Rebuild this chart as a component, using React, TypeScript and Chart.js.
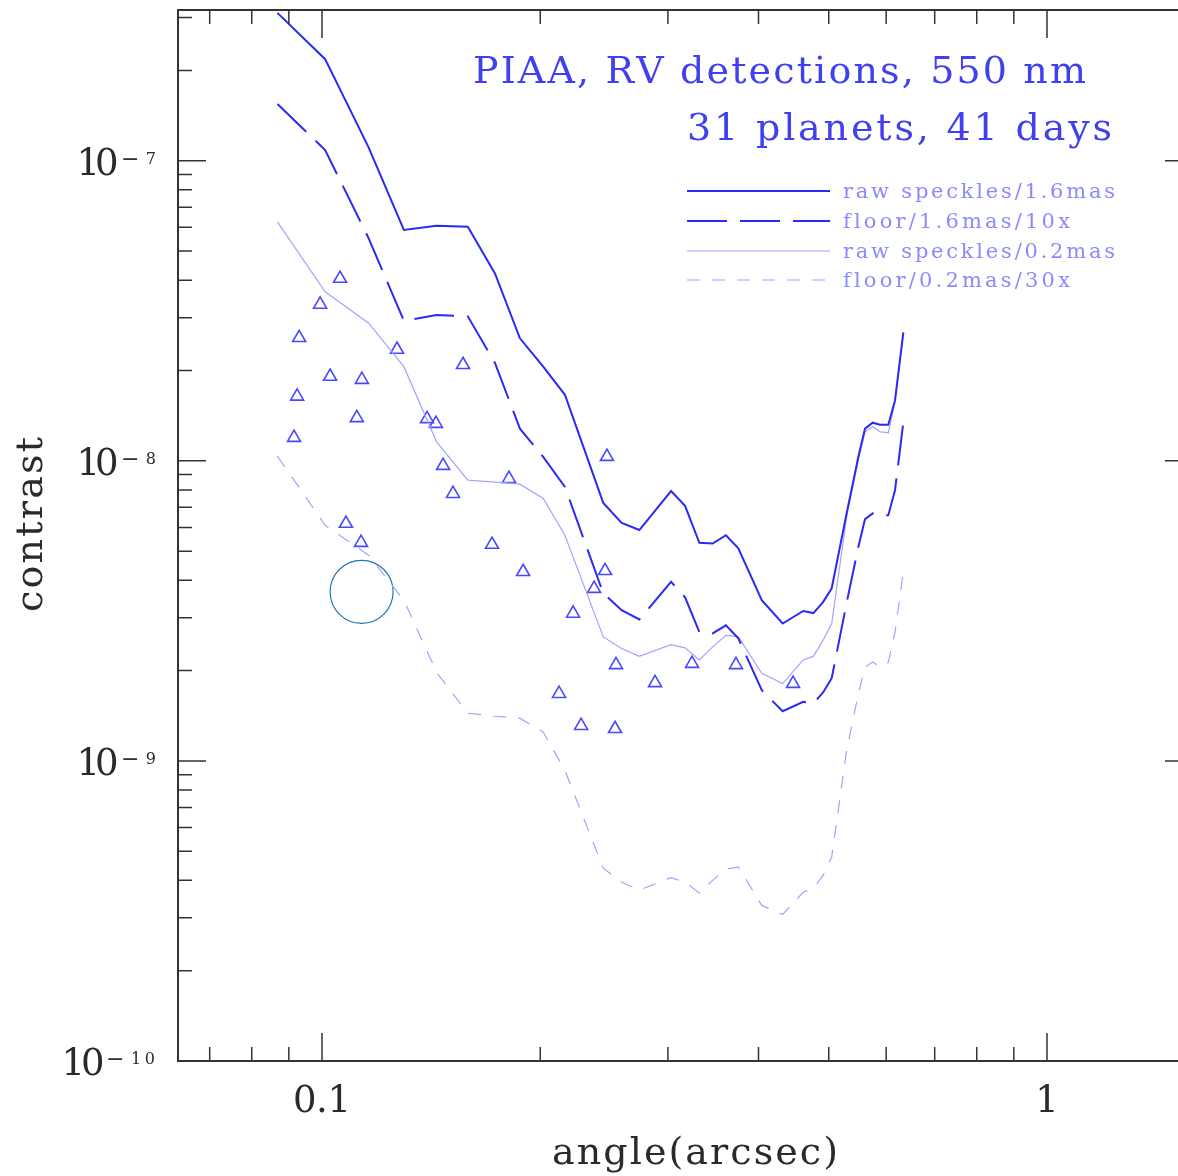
import React, { useEffect, useRef } from 'react';
import { Chart, registerables } from 'chart.js';

Chart.register(...registerables);

// ---------- data ----------
const angle = [
  0.0868, 0.101, 0.1159, 0.1297, 0.1439, 0.1589, 0.1732, 0.1875, 0.2019, 0.2163,
  0.2443, 0.259, 0.274, 0.303, 0.3168, 0.3315, 0.3458, 0.3607, 0.3752, 0.4042,
  0.4319, 0.4611, 0.4762, 0.4913, 0.5047, 0.5292, 0.5492, 0.561, 0.5749, 0.5884,
  0.6041, 0.6171, 0.6336,
];

const rawSpeckles16 = [
  3.11e-7, 2.18e-7, 1.11e-7, 5.88e-8, 6.07e-8, 6.03e-8, 4.21e-8, 2.56e-8, 2.06e-8, 1.66e-8,
  7.24e-9, 6.21e-9, 5.88e-9, 7.93e-9, 7.08e-9, 5.33e-9, 5.3e-9, 5.65e-9, 5.11e-9, 3.43e-9,
  2.87e-9, 3.16e-9, 3.11e-9, 3.39e-9, 3.76e-9, 6.68e-9, 1.03e-8, 1.28e-8, 1.34e-8, 1.32e-8,
  1.32e-8, 1.59e-8, 2.68e-8,
];

const floor16 = [
  1.545e-7, 1.086e-7, 5.53e-8, 2.93e-8, 3.06e-8, 3.03e-8, 2.12e-8, 1.28e-8, 1.03e-8, 8.19e-9,
  3.62e-9, 3.18e-9, 2.96e-9, 3.95e-9, 3.51e-9, 2.69e-9, 2.66e-9, 2.83e-9, 2.56e-9, 1.72e-9,
  1.464e-9, 1.573e-9, 1.553e-9, 1.694e-9, 1.887e-9, 3.36e-9, 5.16e-9, 6.39e-9, 6.68e-9, 6.54e-9,
  6.59e-9, 7.98e-9, 1.34e-8,
];

const rawSpeckles02 = [
  6.26e-8, 3.66e-8, 2.88e-8, 2.06e-8, 1.157e-8, 8.62e-9, 8.49e-9, 8.36e-9, 7.49e-9, 5.65e-9,
  2.59e-9, 2.37e-9, 2.23e-9, 2.44e-9, 2.38e-9, 2.17e-9, 2.4e-9, 2.62e-9, 2.59e-9, 1.96e-9,
  1.81e-9, 2.17e-9, 2.23e-9, 2.53e-9, 2.87e-9, 6.5e-9, 1.005e-8, 1.25e-8, 1.3e-8, 1.25e-8,
  1.24e-8, 1.57e-8, 2.62e-8,
];

const floor02 = [
  1.037e-8, 6.1e-9, 4.85e-9, 3.43e-9, 1.975e-9, 1.442e-9, 1.409e-9, 1.388e-9, 1.246e-9, 9.31e-10,
  4.39e-10, 3.94e-10, 3.71e-10, 4.085e-10, 3.94e-10, 3.63e-10, 4.0e-10, 4.355e-10, 4.43e-10, 3.3e-10,
  3.08e-10, 3.65e-10, 3.765e-10, 4.16e-10, 4.78e-10, 1.085e-9, 1.668e-9, 2.053e-9, 2.138e-9, 2.057e-9,
  2.133e-9, 2.685e-9, 4.27e-9,
];

const rvAngle = [
  0.1059, 0.0994, 0.093, 0.1269, 0.1565, 0.1026, 0.1135, 0.0924, 0.1117, 0.1396,
  0.1436, 0.0915, 0.1469, 0.1811, 0.1516, 0.1079, 0.1132, 0.1716, 0.1894, 0.2472,
  0.2457, 0.2373, 0.222, 0.2544, 0.3239, 0.3724, 0.288, 0.4464, 0.2123, 0.2277,
  0.2536,
];

const rvContrast = [
  4.05e-8, 3.32e-8, 2.57e-8, 2.35e-8, 2.09e-8, 1.91e-8, 1.865e-8, 1.64e-8, 1.39e-8, 1.38e-8,
  1.33e-8, 1.195e-8, 9.64e-9, 8.72e-9, 7.77e-9, 6.18e-9, 5.34e-9, 5.26e-9, 4.27e-9, 1.033e-8,
  4.3e-9, 3.75e-9, 3.1e-9, 2.09e-9, 2.11e-9, 2.09e-9, 1.82e-9, 1.81e-9, 1.675e-9, 1.31e-9,
  1.28e-9,
];

const markerAngle = [0.1134];
const markerContrast = [3.66e-9];

const seriesLabels = [
  'raw speckles/1.6mas',
  'floor/1.6mas/10x',
  'raw speckles/0.2mas',
  'floor/0.2mas/30x',
];
const titleLines = ['PIAA, RV detections, 550 nm', '31 planets, 41 days'];
const xTitle = 'angle(arcsec)';
const yTitle = 'contrast';
const xMajorValues = [0.1, 1];
const xMajorLabels = ['0.1', '1'];
const yMajorValues = [1e-10, 1e-9, 1e-8, 1e-7];
const yExponentDigits = ['10', '9', '8', '7'];
const MINUS = '\u2212';

// ---------- styling ----------
const FONT = '"DejaVu Serif", "Liberation Serif", serif';
const DARK = '#2a2af4';
const LIGHT = '#a3a3ff';
const TITLE_COLOR = '#4040f0';
const LEGEND_TEXT = '#8a8aff';
const AXIS_COLOR = '#333333';
const TEXT_COLOR = '#2a2a2a';

// target chart area (pixels of the page)
const AREA = { left: 178, top: 10, right: 1193, bottom: 1061 };
const CANVAS_W = 1230;
const CANVAS_H = 1176;

function pts(xs: number[], ys: number[]) {
  return xs.map((x, i) => ({ x, y: ys[i] }));
}

function drawFit(ctx: CanvasRenderingContext2D, text: string, x0: number, width: number, y: number) {
  const chars = Array.from(text);
  const widths = chars.map((c) => ctx.measureText(c).width);
  const natural = widths.reduce((a, b) => a + b, 0);
  const extra = chars.length > 1 ? (width - natural) / (chars.length - 1) : 0;
  let x = x0;
  ctx.textAlign = 'left';
  chars.forEach((c, i) => {
    ctx.fillText(c, x, y);
    x += widths[i] + extra;
  });
}

const framePlugin = {
  id: 'pgplotFrame',
  afterDatasetsDraw(chart: any) {
    const { ctx, chartArea: a, scales } = chart;
    const xs = scales.x;
    const ys = scales.y;
    ctx.save();
    ctx.setLineDash([]);
    // frame
    ctx.strokeStyle = AXIS_COLOR;
    ctx.lineWidth = 2;
    ctx.strokeRect(a.left, a.top, a.right - a.left, a.bottom - a.top);
    ctx.lineWidth = 1.5;
    // x ticks
    for (const d of [0.01, 0.1, 1, 10]) {
      for (let m = 1; m <= 9; m++) {
        const v = m * d;
        if (v < xs.min || v > xs.max) continue;
        const px = xs.getPixelForValue(v);
        const len = m === 1 ? 28 : 14;
        ctx.beginPath();
        ctx.moveTo(px, a.bottom);
        ctx.lineTo(px, a.bottom - len);
        ctx.moveTo(px, a.top);
        ctx.lineTo(px, a.top + len);
        ctx.stroke();
      }
    }
    // y ticks
    for (const d of [1e-11, 1e-10, 1e-9, 1e-8, 1e-7, 1e-6]) {
      for (let m = 1; m <= 9; m++) {
        const v = m * d;
        if (v < ys.min * 0.999 || v > ys.max) continue;
        const py = ys.getPixelForValue(v);
        const len = m === 1 ? 28 : 14;
        ctx.beginPath();
        ctx.moveTo(a.left, py);
        ctx.lineTo(a.left + len, py);
        ctx.moveTo(a.right, py);
        ctx.lineTo(a.right - len, py);
        ctx.stroke();
      }
    }

    // tick labels
    ctx.fillStyle = TEXT_COLOR;
    ctx.textBaseline = 'alphabetic';
    xMajorValues.forEach((v, i) => {
      const px = xs.getPixelForValue(v);
      const lab = xMajorLabels[i];
      ctx.font = `37px ${FONT}`;
      const w = lab.length > 1 ? 58 : ctx.measureText(lab).width;
      drawFit(ctx, lab, px - w / 2, w, a.bottom + 51);
    });
    yMajorValues.forEach((v, i) => {
      const py = ys.getPixelForValue(v);
      const digits = yExponentDigits[i];
      const long = digits.length > 1;
      const right = a.left - 22;
      // exponent digits
      ctx.font = `16px ${FONT}`;
      if (long) {
        drawFit(ctx, digits, right - 25, 24, py + 3);
      } else {
        ctx.textAlign = 'right';
        ctx.fillText(digits, right, py + 3);
      }
      // exponent minus sign (long, as in the original)
      ctx.font = `22px ${FONT}`;
      ctx.textAlign = 'left';
      ctx.fillText(MINUS, right - (long ? 50 : 35), py + 4.8);
      // mantissa "10"
      ctx.font = `37px ${FONT}`;
      if (long) drawFit(ctx, '10', right - 94.5, 43, py + 14);
      else drawFit(ctx, '10', right - 79.5, 42, py + 14);
    });

    // axis titles
    ctx.font = `38px ${FONT}`;
    drawFit(ctx, xTitle, 552, 286, 1164);
    ctx.save();
    ctx.translate(42, 612);
    ctx.rotate(-Math.PI / 2);
    drawFit(ctx, yTitle, 0, 175, 0);
    ctx.restore();

    // title
    ctx.fillStyle = TITLE_COLOR;
    ctx.font = `38px ${FONT}`;
    drawFit(ctx, titleLines[0], 473, 613, 83);
    drawFit(ctx, titleLines[1], 687, 425, 140);

    // legend
    const rows = [191, 221, 251, 280];
    const textW = [272, 227, 272, 227];
    const dsList = chart.data.datasets;
    for (let i = 0; i < 4; i++) {
      const ds = dsList[i];
      ctx.strokeStyle = ds.borderColor;
      ctx.lineWidth = ds.borderWidth;
      ctx.setLineDash(ds.borderDash || []);
      ctx.beginPath();
      ctx.moveTo(687, rows[i]);
      ctx.lineTo(830, rows[i]);
      ctx.stroke();
      ctx.setLineDash([]);
      ctx.fillStyle = LEGEND_TEXT;
      ctx.font = `21px ${FONT}`;
      drawFit(ctx, seriesLabels[i], 843, textW[i], rows[i] + 6.5);
    }
    ctx.restore();
  },
};

export default function App() {
  const ref = useRef<HTMLCanvasElement | null>(null);

  useEffect(() => {
    const canvas = ref.current;
    if (!canvas) return;
    const xMin = Math.pow(10, -1 + (AREA.left - 322) / 725);
    const xMax = Math.pow(10, -1 + (AREA.right - 322) / 725);
    const yMax = Math.pow(10, -7 + (160.7 - AREA.top) / 300);

    const chart = new Chart(canvas, {
      type: 'line',
      data: {
        datasets: [
          {
            label: seriesLabels[0],
            data: pts(angle, rawSpeckles16),
            borderColor: DARK,
            borderWidth: 2,
            pointRadius: 0,
            tension: 0,
          },
          {
            label: seriesLabels[1],
            data: pts(angle, floor16),
            borderColor: DARK,
            borderWidth: 2,
            borderDash: [40, 13],
            pointRadius: 0,
            tension: 0,
          },
          {
            label: seriesLabels[2],
            data: pts(angle, rawSpeckles02),
            borderColor: LIGHT,
            borderWidth: 1.2,
            pointRadius: 0,
            tension: 0,
          },
          {
            label: seriesLabels[3],
            data: pts(angle, floor02),
            borderColor: LIGHT,
            borderWidth: 1.2,
            borderDash: [13, 12],
            pointRadius: 0,
            tension: 0,
          },
          {
            label: 'RV detections',
            data: pts(rvAngle, rvContrast),
            showLine: false,
            pointStyle: 'triangle',
            pointRadius: 7.5,
            pointBorderWidth: 1.6,
            pointBorderColor: '#4848ff',
            pointBackgroundColor: 'rgba(0,0,0,0)',
            borderColor: '#4848ff',
            backgroundColor: 'rgba(0,0,0,0)',
          },
          {
            label: 'marker',
            data: pts(markerAngle, markerContrast),
            showLine: false,
            pointStyle: 'circle',
            pointRadius: 31.5,
            pointBorderWidth: 1.2,
            pointBorderColor: '#1f77b4',
            pointBackgroundColor: 'rgba(0,0,0,0)',
            borderColor: '#1f77b4',
            backgroundColor: 'rgba(0,0,0,0)',
          },
        ] as any,
      },
      options: {
        animation: false,
        responsive: false,
        devicePixelRatio: 1,
        events: [],
        layout: {
          autoPadding: false,
          padding: { left: 0, right: CANVAS_W - AREA.right, top: AREA.top, bottom: 0 },
        },
        plugins: {
          legend: { display: false },
          tooltip: { enabled: false },
          title: { display: false },
        },
        scales: {
          x: {
            type: 'logarithmic',
            min: xMin,
            max: xMax,
            grid: { display: false },
            border: { display: false },
            ticks: { display: false },
            afterFit: (s: any) => {
              s.height = CANVAS_H - AREA.bottom;
            },
          },
          y: {
            type: 'logarithmic',
            min: 1e-10,
            max: yMax,
            grid: { display: false },
            border: { display: false },
            ticks: { display: false },
            afterFit: (s: any) => {
              s.width = AREA.left;
            },
          },
        },
      } as any,
      plugins: [framePlugin],
    });
    return () => chart.destroy();
  }, []);

  return (
    <div
      style={{
        position: 'fixed',
        left: 0,
        top: 0,
        width: 1178,
        height: 1176,
        overflow: 'hidden',
        background: '#ffffff',
      }}
    >
      <canvas
        ref={ref}
        width={CANVAS_W}
        height={CANVAS_H}
        style={{ display: 'block', width: CANVAS_W, height: CANVAS_H }}
      />
    </div>
  );
}
